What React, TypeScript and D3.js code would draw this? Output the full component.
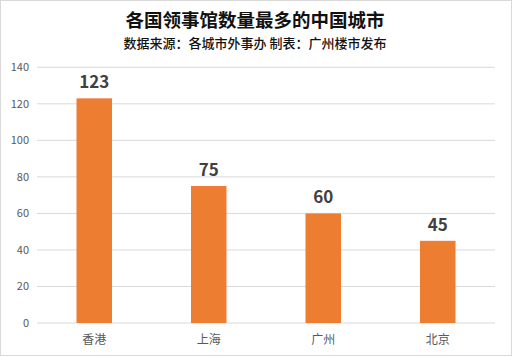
import React from "react";
import * as d3 from "d3";

const categories = ["香港", "上海", "广州", "北京"];
const values = [123, 75, 60, 45];
const yTicks = [0, 20, 40, 60, 80, 100, 120, 140];
const title = "各国领事馆数量最多的中国城市";
const subtitle = "数据来源：各城市外事办 制表：广州楼市发布";

export default function App() {
  const W = 512, H = 356;
  const left = 37, right = 495, top = 67.3, bottom = 323;
  const x = d3.scaleBand<string>().domain(categories).range([left, right]).paddingInner(0.69).paddingOuter(0.345);
  const y = d3.scaleLinear().domain([0, 140]).range([bottom, top]);
  const font = "'Noto Sans CJK SC', 'Noto Sans', sans-serif";
  return (
    <svg width={W} height={H} style={{ position: "absolute", left: 0, top: 0, display: "block" }}>
      <rect x={0.5} y={0.5} width={W - 1} height={H - 1} fill="#ffffff" stroke="#d9d9d9" />
      <text x={255} y={27} textAnchor="middle" fontFamily={font} fontWeight={700} fontSize={18.5} fill="#111">{title}</text>
      <text x={255} y={48} textAnchor="middle" fontFamily={font} fontWeight={500} fontSize={13} fill="#111">{subtitle}</text>
      {yTicks.map((t) => (
        <g key={t}>
          <line x1={left} x2={right} y1={y(t)} y2={y(t)} stroke="#d9d9d9" strokeWidth={1} />
          <text x={29} y={y(t) + 4} textAnchor="end" fontFamily={font} fontSize={11} fill="#595959">{t}</text>
        </g>
      ))}
      {categories.map((c, i) => (
        <g key={c}>
          <rect x={x(c)} y={y(values[i])} width={x.bandwidth()} height={bottom - y(values[i])} fill="#ed7d31" />
          <text x={(x(c) as number) + x.bandwidth() / 2} y={y(values[i]) - 10} textAnchor="middle" fontFamily={font} fontWeight={700} fontSize={17} fill="#404040">{values[i]}</text>
          <text x={(x(c) as number) + x.bandwidth() / 2} y={344} textAnchor="middle" fontFamily={font} fontSize={12} fill="#595959">{c}</text>
        </g>
      ))}
    </svg>
  );
}
